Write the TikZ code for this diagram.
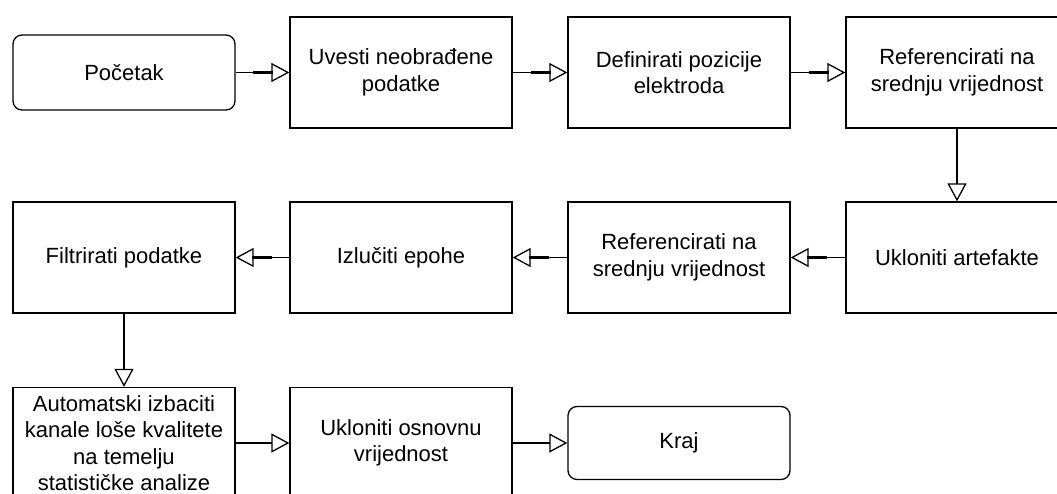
\documentclass[tikz,border=0pt]{standalone}
\usepackage{fontspec}
\setmainfont{Liberation Sans}
\usetikzlibrary{arrows.meta,calc}
\tikzset{
  box/.style={draw, line width=1.3pt, minimum width=222pt, minimum height=111pt, inner sep=0pt, align=center, font=\fontsize{22}{26.5}\selectfont},
  term/.style={box, rounded corners=9pt, minimum height=75pt},
  conn/.style={line width=1.3pt, -{Triangle[open, length=18pt, width=19pt, line width=1.3pt]}},
  thickseg/.style={line width=2.8pt}
}
\begin{document}
\begin{tikzpicture}[x=1pt,y=-1pt]
\useasboundingbox (0,0) rectangle (1057,493);
\clip (0,0) rectangle (1057,493);
% row 1
\node[term] (start) at (124,72.5) {Početak};
\node[box] (uvesti) at (401,72.5) {Uvesti neobrađene\\podatke};
\node[box] (defin) at (679,72.5) {Definirati pozicije\\elektroda};
\node[box] (ref1) at (957,72.5) {Referencirati na\\srednju vrijednost};
% row 2
\node[box] (filt) at (124,257.5) {Filtrirati podatke};
\node[box] (izluc) at (401,257.5) {Izlučiti epohe};
\node[box] (ref2) at (679,257.5) {Referencirati na\\srednju vrijednost};
\node[box] (artef) at (957,257.5) {Ukloniti artefakte};
% row 3
\node[box] (auto) at (124,443) {Automatski izbaciti\\kanale loše kvalitete\\na temelju\\statističke analize};
\node[box] (osnov) at (401,443) {Ukloniti osnovnu\\vrijednost};
\node[term, minimum height=73pt] (kraj) at (679,443) {Kraj};
% connectors
\draw[conn] (start) -- (uvesti);
\draw[thickseg] ([xshift=-36pt]uvesti.west) -- ([xshift=-16pt]uvesti.west);
\draw[conn] (uvesti) -- (defin);
\draw[thickseg] ([xshift=-36pt]defin.west) -- ([xshift=-16pt]defin.west);
\draw[conn] (defin) -- (ref1);
\draw[thickseg] ([xshift=-36pt]ref1.west) -- ([xshift=-16pt]ref1.west);
\draw[conn] (ref1) -- (artef);
\draw[conn] (artef) -- (ref2);
\draw[thickseg] ([xshift=36pt]ref2.east) -- ([xshift=16pt]ref2.east);
\draw[conn] (ref2) -- (izluc);
\draw[thickseg] ([xshift=36pt]izluc.east) -- ([xshift=16pt]izluc.east);
\draw[conn] (izluc) -- (filt);
\draw[thickseg] ([xshift=36pt]filt.east) -- ([xshift=16pt]filt.east);
\draw[conn] (filt) -- (auto);
\draw[conn] (auto) -- (osnov);
\draw[conn] (osnov) -- (kraj);
\end{tikzpicture}
\end{document}
